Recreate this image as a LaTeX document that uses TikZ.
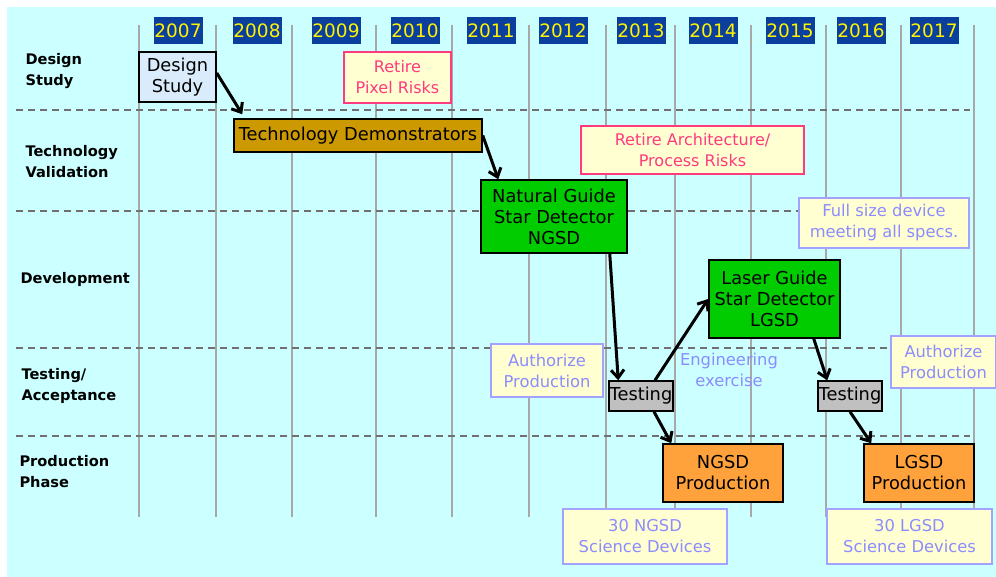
\documentclass[tikz,border=0pt]{standalone}
\usepackage{fontspec}
\setmainfont{DejaVu Sans}
\usepackage{tikz}
\usetikzlibrary{arrows.meta,positioning}

\definecolor{bgcyan}{HTML}{CCFFFF}
\definecolor{gridgray}{HTML}{A8A8A8}
\definecolor{dashgray}{HTML}{707070}
\definecolor{yearblue}{HTML}{0A3F9E}
\definecolor{designblue}{HTML}{DAECFB}
\definecolor{techgold}{HTML}{CC9900}
\definecolor{devgreen}{HTML}{00CC00}
\definecolor{testgray}{HTML}{C0C0C0}
\definecolor{prodorange}{HTML}{FFA23C}
\definecolor{noteyellow}{HTML}{FFFFD2}
\definecolor{riskpink}{HTML}{FF3A7E}
\definecolor{notelilac}{HTML}{8C8CFF}

\begin{document}
\begin{tikzpicture}[x=1pt, y=-1pt,
  every node/.style={font=\fontsize{17.8}{21}\selectfont},
  box/.style={draw=black, line width=1.5pt, align=center, inner sep=0pt},
  risk/.style={draw=riskpink, fill=noteyellow, text=riskpink, line width=1.5pt, align=center, inner sep=0pt, font=\fontsize{16}{21}\selectfont},
  note/.style={draw=notelilac!80, fill=noteyellow, text=notelilac, line width=1.5pt, align=center, inner sep=0pt, font=\fontsize{16.3}{21}\selectfont},
  yearbox/.style={fill=yearblue, text=yellow, minimum width=49pt, minimum height=27pt, inner sep=0pt, font=\fontsize{18.5}{21}\selectfont},
  rowlabel/.style={anchor=west, align=left, font=\bfseries\fontsize{14.6}{21}\selectfont},
  arrow/.style={-{Straight Barb[length=8pt,width=13pt]}, line width=3pt}]
\useasboundingbox (0,0) rectangle (996,577);
\fill[white] (0,0) rectangle (996,577);
\fill[bgcyan] (7,7) rectangle (996,577);

% year grid
\foreach \gx in {139,216,292,376,452,529,606,675,751,826,901,974}
  \draw[gridgray, line width=1.5pt] (\gx,25) -- (\gx,517);
\foreach \yr/\cx in {2007/178,2008/257,2009/336,2010/415,2011/491,2012/563,2013/641,2014/713,2015/790,2016/861,2017/934}
  \node[yearbox] (y\yr) at (\cx,31) {\yr};

% phase separators
\foreach \sy in {110,211,348,436}
  \draw[dashgray, line width=1.5pt, dash pattern=on 7pt off 5pt] (16,\sy) -- (970,\sy);

% phase names
\node[rowlabel] (rdesign) at (22,71) {Design\\Study};
\node[rowlabel] (rtech) at (22,162) {Technology\\Validation};
\node[rowlabel] (rdev) at (17,279) {Development};
\node[rowlabel] (rtest) at (18,386) {Testing/\\Acceptance};
\node[rowlabel] (rprod) at (16,472) {Production\\Phase};

% activities
\node[box, fill=designblue, minimum width=77pt, minimum height=50pt] (design) at (177.5,77) {Design\\Study};
\node[box, fill=techgold, minimum width=248pt, minimum height=33pt] (tech) at (358,135.5) {Technology Demonstrators};
\node[box, fill=devgreen, minimum width=146pt, minimum height=73pt] (ngsd) at (554,216.5) {Natural Guide\\Star Detector\\NGSD};
\node[box, fill=devgreen, minimum width=131pt, minimum height=78pt] (lgsd) at (774.5,299) {Laser Guide\\Star Detector\\LGSD};
\node[box, fill=testgray, minimum width=64pt, minimum height=30pt] (test1) at (641,396) {Testing};
\node[box, fill=testgray, minimum width=64pt, minimum height=30pt] (test2) at (850,396) {Testing};
\node[box, fill=prodorange, minimum width=120pt, minimum height=58pt] (ngsdprod) at (723,473) {NGSD\\Production};
\node[box, fill=prodorange, minimum width=110pt, minimum height=58pt] (lgsdprod) at (919,473) {LGSD\\Production};

% notes
\node[risk, minimum width=107pt, minimum height=51pt] (pixel) at (397.5,77.5) {Retire\\Pixel Risks};
\node[risk, minimum width=223pt, minimum height=48pt] (arch) at (692.5,150) {Retire Architecture/\\Process Risks};
\node[note, minimum width=170pt, minimum height=50pt] (fullsize) at (884,223) {Full size device\\meeting all specs.};
\node[note, minimum width=112pt, minimum height=53pt] (auth1) at (547,370.5) {Authorize\\Production};
\node[note, minimum width=105pt, minimum height=52pt] (auth2) at (943.5,362) {Authorize\\Production};
\node[note, draw=none, fill=none] (eng) at (729,370) {Engineering\\exercise};
\node[note, minimum width=164pt, minimum height=55pt] (sci1) at (645,536.5) {30 NGSD\\Science Devices};
\node[note, minimum width=165pt, minimum height=55pt] (sci2) at (909.5,536.5) {30 LGSD\\Science Devices};

% flow
\draw[arrow] ([yshift=4pt]design.east) -- ([xshift=9pt,yshift=4pt]tech.north west);
\draw[arrow] (tech.east) -- ([xshift=18pt]ngsd.north west);
\draw[arrow] ([xshift=-18pt]ngsd.south east) -- ([xshift=10pt]test1.north west);
\draw[arrow] ([xshift=14pt]test1.north) -- (lgsd.west);
\draw[arrow] ([xshift=-27pt]lgsd.south east) -- ([xshift=10pt]test2.north west);
\draw[arrow] ([xshift=13pt]test1.south) -- ([xshift=9pt]ngsdprod.north west);
\draw[arrow] (test2.south) -- ([xshift=8pt]lgsdprod.north west);
\end{tikzpicture}
\end{document}
